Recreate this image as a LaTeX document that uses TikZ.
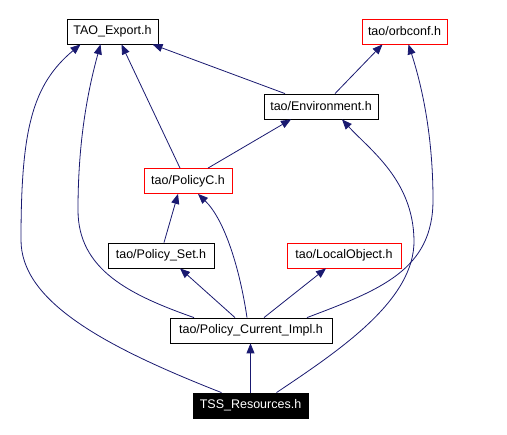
\documentclass[tikz,border=0pt]{standalone}
\usepackage{fontspec}
\setmainfont{Liberation Sans}
\usetikzlibrary{arrows.meta}
\definecolor{edgeblue}{HTML}{191970}
\tikzset{
  hdr/.style={draw=black, line width=0.8pt, minimum height=25pt, inner sep=0pt,
    font=\fontsize{12.5}{14}\selectfont},
  redhdr/.style={hdr, draw=red},
  dep/.style={-{Triangle[length=10pt,width=8pt]}, draw=edgeblue, fill=none, line width=0.8pt}
}
\begin{document}
\begin{tikzpicture}[x=1pt,y=-1pt]
        \useasboundingbox (0,0) rectangle (507,435);
        \node[hdr, minimum width=91pt] (exp) at (112.5,31.5) {TAO\_Export.h};
        \node[redhdr, minimum width=85pt] (orb) at (404.5,31.5) {tao/orbconf.h};
        \node[hdr, minimum width=114pt] (env) at (321,106.5) {tao/Environment.h};
        \node[redhdr, minimum width=88pt] (pc) at (188,181) {tao/PolicyC.h};
        \node[hdr, minimum width=106pt] (pset) at (161,255.5) {tao/Policy\_Set.h};
        \node[redhdr, minimum width=114pt] (lo) at (344,255.5) {tao/LocalObject.h};
        \node[hdr, minimum width=162pt] (pci) at (251,330.5) {tao/Policy\_Current\_Impl.h};
        \node[hdr, fill=black, text=white, minimum width=115pt] (tss) at (250.5,405.5) {TSS\_Resources.h};
        % straight includes
        \draw[dep] ([xshift=-36pt]env.north) -- ([xshift=40pt]exp.south);
        \draw[dep] ([xshift=14pt]env.north) -- ([xshift=-22pt]orb.south);
        \draw[dep] ([xshift=-8pt]pc.north) -- ([xshift=9pt]exp.south);
        \draw[dep] ([xshift=20pt]pc.north) -- ([xshift=-30pt]env.south);
        \draw[dep] ([xshift=3pt]pset.north) -- ([xshift=-10pt]pc.south);
        \draw[dep] ([xshift=-16pt]pci.north) -- ([xshift=19pt]pset.south);
        \draw[dep] ([xshift=13pt]pci.north) -- ([xshift=-18pt]lo.south);
        \draw[dep] (tss.north) -- (tss.north |- pci.south);
        % curved includes
        \draw[dep] ([xshift=-4pt]pci.north) .. controls (240,270) and (225,220) .. ([xshift=10pt]pc.south);
        \draw[dep] ([xshift=-57pt]pci.north) .. controls (130,295) and (78,270) .. (78,210)
            .. controls (78,140) and (88,90) .. ([xshift=-12pt]exp.south);
        \draw[dep] ([xshift=56pt]pci.north) .. controls (380,290) and (433,270) .. (433,200)
            .. controls (433,130) and (420,80) .. ([xshift=4pt]orb.south);
        \draw[dep] ([xshift=-29pt]tss.north) .. controls (100,345) and (21,300) .. (21,240)
            .. controls (21,130) and (32,85) .. ([xshift=-32pt]exp.south);
        \draw[dep] ([xshift=26pt]tss.north) .. controls (340,350) and (415,300) .. (414,240)
            .. controls (413,180) and (370,150) .. ([xshift=21pt]env.south);
    \end{tikzpicture}
\end{document}
